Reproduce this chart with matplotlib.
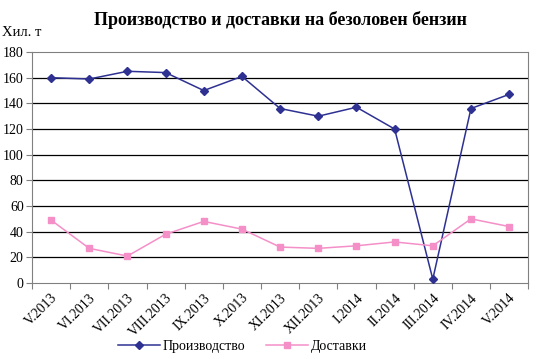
import matplotlib.pyplot as plt
import numpy as np

plt.rcParams['font.family'] = ['Liberation Serif', 'DejaVu Serif']

months = ['V.2013', 'VI.2013', 'VII.2013', 'VIII.2013', 'IX.2013', 'X.2013',
          'XI.2013', 'XII.2013', 'I.2014', 'II.2014', 'III.2014', 'IV.2014', 'V.2014']
production = [160, 159, 165, 164, 150, 161, 136, 130, 137, 120, 3, 136, 147]
deliveries = [49, 27, 21, 38, 48, 42, 28, 27, 29, 32, 29, 50, 44]

fig = plt.figure(figsize=(5.39, 3.59), dpi=100)
ax = fig.add_axes([0.0594, 0.2117, 0.9206, 0.6433])

x = np.arange(len(months))
ax.plot(x, production, color='#2E3192', marker='D', markersize=4.5, lw=1.1,
        label='Производство', zorder=3)
ax.plot(x, deliveries, color='#F48FC8', marker='s', markersize=5, lw=1.1,
        label='Доставки', zorder=3)

ax.set_xlim(-0.5, len(months) - 0.5)
ax.set_ylim(0, 180)
ax.set_yticks(range(0, 181, 20))
for v in range(20, 180, 20):
    ax.axhline(v, color='black', lw=0.9, zorder=1)

# category ticks sit between the points
ax.set_xticks(np.arange(-0.5, len(months), 1.0))
ax.set_xticklabels([])
ax.set_xticks(x, minor=True)
ax.set_xticklabels(months, minor=True, rotation=45, ha='right',
                   rotation_mode='anchor', fontsize=10)
ax.tick_params(axis='x', which='minor', length=0, pad=6)
ax.tick_params(axis='x', which='major', length=4, color='#808080')
ax.tick_params(axis='y', length=4, color='#808080', labelsize=10, pad=2)

for s in ax.spines.values():
    s.set_color('#808080')

fig.text(0.52, 0.945, 'Производство и доставки на безоловен бензин',
         ha='center', va='center', fontsize=13, fontweight='bold')
fig.text(0.004, 0.91, 'Хил. т', ha='left', va='center', fontsize=10.5)

fig.legend(loc='center', bbox_to_anchor=(0.45, 0.035), ncol=2, frameon=False,
           fontsize=10, handlelength=3, columnspacing=1.5, handletextpad=0.2)

fig.savefig('out.png', dpi=100)
